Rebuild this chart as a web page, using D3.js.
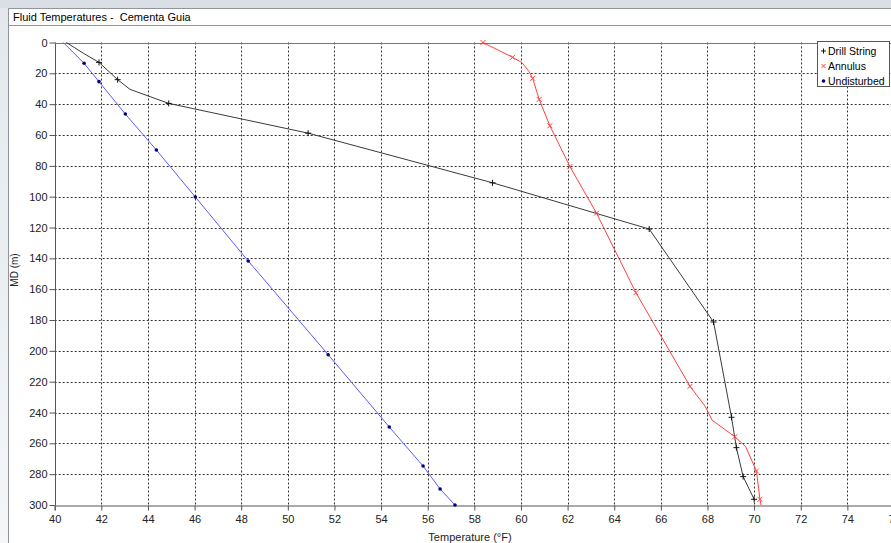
<!DOCTYPE html>
<html>
<head>
<meta charset="utf-8">
<script src="https://cdn.jsdelivr.net/npm/d3@7"></script>
<style>
  body { margin: 0; background: #fff; }
  svg text { font-family: "Liberation Sans", Arial, sans-serif; }
</style>
</head>
<body>
<svg id="chart" width="891" height="543"></svg>
<script>
// depth (m) / temperature (F)
var dsDepth = [0, 7, 12.9, 24.1, 30.4, 39.5, 58.8, 91, 121, 181.3, 243.1, 262.8, 281.6, 296.3];
var dsTemp  = [40.5, 41.23, 41.9, 42.7, 43.23, 44.89, 50.87, 58.78, 65.5, 68.26, 69.03, 69.24, 69.53, 70.0];
var dsMark  = [0, 0, 1, 1, 0, 1, 1, 1, 1, 1, 1, 1, 1, 1];

var anDepth = [0, 9.6, 12.9, 18.9, 23.2, 36.9, 54, 80.5, 110.7, 162.3, 223, 236, 245, 255.7, 262.2, 278, 296.3, 300];
var anTemp  = [58.37, 59.64, 60.03, 60.35, 60.5, 60.78, 61.24, 62.1, 63.24, 64.93, 67.25, 67.9, 68.2, 69.17, 69.64, 70.1, 70.25, 70.3];
var anMark  = [1, 1, 0, 0, 1, 1, 1, 1, 1, 1, 1, 0, 0, 1, 0, 1, 1, 0];

var unDepth = [0, 13.5, 25.4, 46.4, 69.7, 100.2, 141.7, 202.5, 249.4, 274.7, 289.6, 300];
var unTemp  = [40.37, 41.26, 41.9, 43.03, 44.36, 46.03, 48.3, 51.73, 54.35, 55.8, 56.53, 57.17];
var unMark  = [0, 1, 1, 1, 1, 1, 1, 1, 1, 1, 1, 1];

var xTicks = d3.range(40, 77, 2);
var yTicks = d3.range(0, 301, 20);
var legendNames = ["Drill String", "Annulus", "Undisturbed"];

var svg = d3.select("#chart");
var W = 891, H = 543;
var FONT = "'Liberation Sans', Arial, sans-serif";

// window chrome
var defs = svg.append("defs");
var grad = defs.append("linearGradient").attr("id", "side")
    .attr("x1", 0).attr("y1", 0).attr("x2", 0).attr("y2", 1);
grad.append("stop").attr("offset", 0).attr("stop-color", "#e4e8ec");
grad.append("stop").attr("offset", 1).attr("stop-color", "#f4f6f8");
svg.append("rect").attr("width", W).attr("height", H).attr("fill", "url(#side)");
svg.append("rect").attr("x", 0).attr("y", 0).attr("width", W).attr("height", 8).attr("fill", "#d9dfe5");
svg.append("rect").attr("x", 8.5).attr("y", 8.5).attr("width", W).attr("height", H)
    .attr("fill", "#fff").attr("stroke", "#8f959a");
svg.append("line").attr("x1", 9).attr("x2", W).attr("y1", 25.5).attr("y2", 25.5)
    .attr("stroke", "#8f959a");
svg.append("text").attr("x", 13).attr("y", 21).attr("font-size", 11).attr("fill", "#000")
    .style("white-space", "pre")
    .text("Fluid Temperatures -  Cementa Guia");

var x = d3.scaleLinear().domain([40, 76]).range([54.7, 894]);
var y = d3.scaleLinear().domain([0, 300]).range([42.5, 505]);

// grid
var g = svg.append("g");
g.selectAll("line.vg").data(xTicks.filter(function(d){ return d > 40; }))
  .enter().append("line")
    .attr("x1", function(d){ return Math.round(x(d)) + 0.5; })
    .attr("x2", function(d){ return Math.round(x(d)) + 0.5; })
    .attr("y1", y(0)).attr("y2", y(300))
    .attr("stroke", "#333").attr("stroke-dasharray", "2,2");
g.selectAll("line.hg").data(yTicks.filter(function(d){ return d > 0 && d < 300; }))
  .enter().append("line")
    .attr("x1", x(40)).attr("x2", W)
    .attr("y1", function(d){ return Math.round(y(d)) + 0.5; })
    .attr("y2", function(d){ return Math.round(y(d)) + 0.5; })
    .attr("stroke", "#333").attr("stroke-dasharray", "2,2");

// axes
var yAxis = d3.axisLeft(y).tickValues(yTicks).tickSize(6).tickPadding(2);
var xAxis = d3.axisBottom(x).tickValues(xTicks).tickSize(5).tickPadding(5);
var ya = svg.append("g").attr("transform", "translate(" + (Math.round(x(40)) + 0.5) + ",0)").call(yAxis);
var xa = svg.append("g").attr("transform", "translate(0," + (Math.round(y(300)) + 0.5) + ")").call(xAxis);
[ya, xa].forEach(function(a){
  a.selectAll("path").attr("stroke", "#555");
  a.selectAll("line").attr("stroke", "#555");
  a.selectAll("text").attr("font-size", 11).attr("fill", "#222").style("font-family", FONT);
});
ya.select(".domain").attr("d", "M0," + y(0) + "V" + y(300));
svg.append("line").attr("x1", x(40)).attr("x2", W)
    .attr("y1", Math.round(y(0)) + 0.5).attr("y2", Math.round(y(0)) + 0.5).attr("stroke", "#777");

svg.append("text").attr("x", 470).attr("y", 541).attr("text-anchor", "middle")
    .attr("font-size", 11).attr("fill", "#222").text("Temperature (°F)");
svg.append("text").attr("transform", "translate(18,270) rotate(-90)").attr("text-anchor", "middle")
    .attr("font-size", 10).attr("fill", "#222").text("MD (m)");

// series
function pts(depth, temp, mark) {
  return depth.map(function(d, i){ return {d: d, t: temp[i], m: mark[i]}; });
}
var line = d3.line().x(function(p){ return x(p.t); }).y(function(p){ return y(p.d); });
var plot = svg.append("g");

var un = pts(unDepth, unTemp, unMark);
var an = pts(anDepth, anTemp, anMark);
var ds = pts(dsDepth, dsTemp, dsMark);

plot.append("path").attr("d", line(un)).attr("fill", "none").attr("stroke", "#5a5aff").attr("stroke-width", 1);
plot.append("path").attr("d", line(an)).attr("fill", "none").attr("stroke", "#ff4040").attr("stroke-width", 1);
plot.append("path").attr("d", line(ds)).attr("fill", "none").attr("stroke", "#3a3a3a").attr("stroke-width", 1);

function plus(sel, s, col) {
  sel.append("path").attr("d", "M" + (-s) + ",0H" + s + "M0," + (-s) + "V" + s)
     .attr("stroke", col).attr("fill", "none");
}
function cross(sel, s, col) {
  sel.append("path").attr("d", "M" + (-s) + "," + (-s) + "L" + s + "," + s + "M" + (-s) + "," + s + "L" + s + "," + (-s))
     .attr("stroke", col).attr("fill", "none");
}

plot.selectAll("circle.un").data(un.filter(function(p){ return p.m; })).enter().append("circle")
    .attr("cx", function(p){ return x(p.t); }).attr("cy", function(p){ return y(p.d); })
    .attr("r", 1.8).attr("fill", "#00007a");
plot.selectAll("g.an").data(an.filter(function(p){ return p.m; })).enter().append("g")
    .attr("transform", function(p){ return "translate(" + x(p.t) + "," + y(p.d) + ")"; })
    .each(function(){ cross(d3.select(this), 2.5, "#ff4040"); });
plot.selectAll("g.ds").data(ds.filter(function(p){ return p.m; })).enter().append("g")
    .attr("transform", function(p){ return "translate(" + x(p.t) + "," + y(p.d) + ")"; })
    .each(function(){ plus(d3.select(this), 3, "#111"); });

// legend
var lg = svg.append("g").attr("transform", "translate(817.5,41.5)");
lg.append("rect").attr("width", 72).attr("height", 45).attr("fill", "#fff").attr("stroke", "#555");
legendNames.forEach(function(name, i) {
  var row = lg.append("g").attr("transform", "translate(6," + (9.5 + i * 15) + ")");
  if (i === 0) plus(row, 2.5, "#111");
  else if (i === 1) cross(row, 2, "#ff4040");
  else row.append("circle").attr("r", 1.8).attr("fill", "#00007a");
  row.append("text").attr("x", 4.5).attr("y", 4).attr("font-size", 10.5).attr("fill", "#000").text(name);
});
</script>
</body>
</html>
